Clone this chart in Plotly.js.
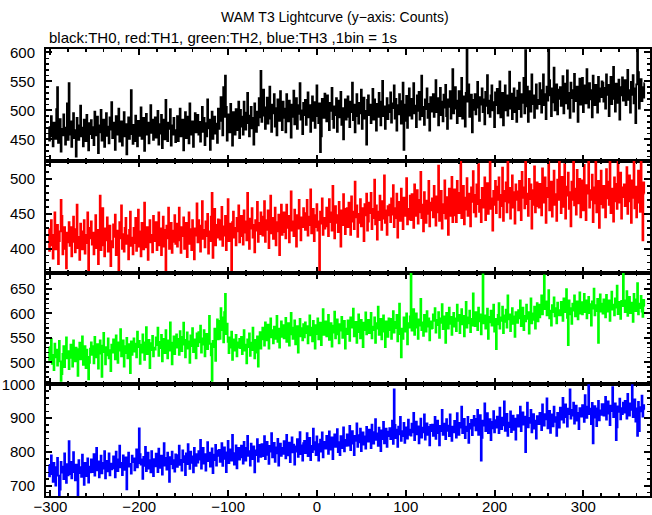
<!DOCTYPE html>
<html>
<head>
<meta charset="utf-8">
<script src="https://cdn.plot.ly/plotly-3.0.1.min.js"></script>
<style>html,body{margin:0;padding:0;background:#fff;}#chart{width:652px;height:515px;}</style>
</head>
<body>
<div id="chart"></div>
<script>
// Time bins: start time (s) and bin width (1bin = 1s)
const T_START = -302;
const BIN = 1;

// TH0 (black) counts per 1 s bin
const TH0 = [
471,448,455,490,462,438,479,466,451,502,540,444,473,485,429,468,457,493,470,441,463,512,449,547,
458,481,437,469,495,452,466,420,487,474,449,463,508,455,470,438,484,461,447,492,466,431,478,459,
483,452,471,440,498,465,457,489,426,474,462,501,448,469,484,437,461,495,456,472,443,488,467,514,
452,479,465,432,490,471,458,503,446,468,481,439,463,497,455,476,424,470,488,451,466,535,459,442,
475,447,491,462,438,482,469,456,505,451,473,487,430,466,494,458,479,443,470,509,461,484,449,468,
488,453,467,499,441,476,460,492,435,471,484,450,518,463,447,479,468,502,439,474,458,487,466,445,
461,490,447,478,503,455,469,484,431,476,497,452,466,489,443,512,470,458,481,437,474,495,462,479,
492,458,480,446,471,506,463,487,440,478,455,519,469,484,432,475,498,451,466,489,460,477,444,503,
468,495,523,482,457,540,489,560,506,448,493,478,462,511,485,439,497,474,458,502,481,466,515,452,
501,472,489,458,515,483,467,496,530,478,455,491,506,469,487,441,512,480,463,498,474,521,488,568,
480,512,536,491,468,505,522,477,499,541,486,463,510,495,528,472,504,457,519,490,482,533,498,466,
515,487,503,462,528,495,481,517,499,453,510,489,534,476,502,521,468,494,509,547,484,500,459,513,
492,518,475,506,531,488,509,463,497,524,482,514,470,501,543,490,478,512,428,455,520,504,487,529,
508,481,526,494,466,513,499,539,485,470,507,492,521,463,501,517,488,532,475,504,450,496,519,484,
489,524,506,471,515,497,548,483,510,462,501,528,490,477,513,495,536,468,507,522,486,499,441,518,
526,492,510,478,503,537,484,519,496,465,511,489,530,502,474,515,551,490,507,468,498,521,485,509,
497,531,479,512,504,543,486,520,465,509,493,528,501,477,516,548,432,482,510,525,470,505,538,491,
520,486,512,547,495,508,471,526,499,532,484,513,560,490,506,475,519,502,538,487,511,465,523,498,
503,528,489,516,552,497,521,474,510,539,492,515,481,527,505,544,490,468,519,506,533,486,512,571,
495,521,540,503,478,517,533,490,512,556,486,524,507,472,530,605,515,545,489,508,527,462,518,501,
528,493,516,549,505,482,523,510,538,497,519,476,532,508,561,495,517,489,526,543,500,514,471,531,
509,537,495,521,550,488,516,530,474,512,543,500,526,491,518,567,503,529,485,514,538,497,522,480,
534,502,548,517,489,528,513,556,495,604,507,541,480,519,533,498,562,511,526,487,520,545,503,518,
511,547,520,496,535,562,509,528,485,541,517,606,552,526,490,538,514,574,500,529,545,493,520,536,
540,508,531,559,495,524,546,512,569,503,530,487,548,521,535,498,563,516,527,541,480,533,555,510,
521,556,497,538,543,512,571,529,505,547,519,535,488,560,526,509,544,532,496,558,515,538,523,550,
548,515,539,503,562,527,544,490,536,558,511,531,575,520,498,546,529,513,553,484,540,526,557,517,
525,552,509,541,570,518,535,496,549,527,561,512,538,478,545,607,566,503,529,554,516,540,522,547
];

// TH1 (red)
const TH1 = [
428,397,412,441,405,386,420,452,399,416,434,378,411,425,470,447,392,418,431,400,372,423,409,438,
404,431,389,419,446,410,395,428,463,401,417,384,436,412,399,425,441,393,420,408,452,364,415,430,
439,406,423,392,415,448,401,427,378,414,476,398,420,458,405,389,429,412,445,396,418,433,375,411,
402,435,417,449,391,426,410,366,438,415,462,400,421,396,430,444,407,419,385,427,453,404,416,392,
430,408,444,397,421,456,403,425,389,437,412,399,466,418,402,431,384,426,441,409,420,395,447,414,
411,438,398,424,452,405,429,391,417,446,403,427,365,433,415,459,400,422,437,394,426,410,448,407,
436,403,427,459,412,394,431,418,445,400,423,437,388,416,452,407,428,398,441,414,385,429,419,465,
409,441,420,396,433,468,414,427,402,439,418,450,393,425,411,446,480,387,421,457,405,434,416,442,
441,413,429,460,404,432,419,447,398,428,471,411,436,422,368,438,453,416,430,405,444,425,462,409,
418,447,431,406,455,423,439,412,480,427,400,443,429,458,416,434,395,441,426,467,410,437,421,452,
446,419,435,468,410,441,427,455,401,433,476,422,444,414,430,459,405,438,425,449,391,436,463,420,
424,452,438,415,463,430,447,409,441,482,426,439,418,456,433,403,448,429,470,437,412,445,431,458,
451,427,443,470,419,446,434,485,422,440,457,411,448,431,464,426,439,367,453,436,472,420,444,429,
432,459,445,418,471,438,452,426,490,443,415,461,437,448,424,467,440,403,455,434,478,446,421,457,
458,431,466,447,420,475,439,453,428,496,445,462,417,450,437,471,432,458,441,411,464,448,479,426,
439,466,451,480,428,457,444,499,435,462,413,453,441,476,449,427,468,443,505,437,455,420,461,448,
463,438,472,449,491,431,458,444,479,416,455,467,440,486,452,428,473,447,462,501,435,457,442,476,
441,478,455,430,492,461,447,484,436,470,452,510,444,463,425,481,458,437,469,450,497,432,466,455,
472,445,490,461,433,475,452,519,440,468,483,429,464,451,498,443,474,457,420,486,462,447,503,438,
448,485,463,438,497,470,451,480,529,444,466,490,435,473,456,501,447,479,461,432,488,467,511,452,
477,446,492,464,521,453,470,438,487,459,475,502,441,468,494,450,478,533,457,472,426,483,463,497,
451,489,470,502,445,477,461,516,440,483,468,495,452,531,466,487,443,474,505,459,481,436,492,470,
482,455,497,468,441,510,473,488,458,535,464,479,447,500,471,492,429,484,463,518,452,476,495,461,
459,493,472,448,515,481,466,502,437,487,474,528,455,469,496,446,483,512,463,478,440,499,470,534,
485,451,503,474,460,521,443,489,476,509,457,481,432,496,470,538,462,486,449,513,478,465,500,445,
476,498,455,520,467,441,491,479,533,459,484,470,506,438,488,465,525,452,481,497,430,473,512,464,
459,490,478,445,514,472,496,463,527,451,486,475,439,502,468,493,457,531,480,466,509,443,488,474,
492,461,483,517,450,476,505,468,437,498,473,540,458,489,445,481,512,466,453,527,470,412,495,479
];

// TH2 (green)
const TH2 = [
531,505,522,548,497,515,484,538,510,526,493,519,544,502,462,476,517,533,490,512,551,508,523,486,
509,536,518,491,545,524,502,530,515,472,527,540,506,521,553,495,517,533,488,526,511,465,499,528,
541,515,533,498,552,526,510,537,487,529,545,518,470,534,560,521,496,531,514,549,508,525,482,536,
520,547,529,506,555,535,499,541,524,568,512,530,545,491,533,519,550,508,537,526,478,543,515,534,
549,522,538,510,563,531,544,497,536,520,557,528,505,541,572,517,533,546,488,539,525,554,512,530,
526,551,535,571,513,542,529,556,502,537,548,519,566,534,508,545,524,582,531,496,540,553,517,544,
557,530,548,515,564,539,523,552,581,536,510,546,561,528,543,499,555,533,570,521,547,537,508,559,
533,562,541,575,520,549,536,566,512,545,558,527,550,595,538,514,462,544,531,569,503,560,588,547,
585,548,611,566,592,541,603,640,558,579,542,519,551,530,563,505,538,547,524,556,512,541,530,548,
529,552,517,541,566,524,536,498,547,531,559,513,540,525,571,535,508,546,520,553,491,537,562,528,
547,571,556,534,582,560,545,577,528,563,590,551,566,539,573,548,561,595,542,569,530,558,584,552,
576,549,568,591,542,565,580,534,557,601,571,548,563,586,537,559,574,520,566,589,553,570,545,578,
551,582,560,574,539,567,596,555,571,543,585,562,528,576,558,590,547,568,581,535,572,609,556,563,
584,553,571,597,546,566,580,532,575,561,604,549,570,588,557,539,578,565,593,550,572,585,528,569,
558,586,565,544,592,571,579,610,553,568,583,540,575,598,562,549,587,570,531,581,566,602,557,574,
587,560,578,601,549,573,566,592,540,580,569,614,556,575,589,547,571,596,563,531,584,570,552,590,
566,589,548,578,605,561,583,570,597,543,575,620,558,510,569,548,592,574,563,600,537,580,571,594,
684,565,583,609,556,578,600,571,548,588,575,630,566,582,554,597,579,563,605,573,590,545,584,569,
570,598,585,611,561,587,576,603,550,590,581,619,568,594,577,540,601,584,569,612,579,593,556,588,
601,573,590,564,618,585,597,560,589,609,578,595,553,586,624,571,592,580,606,562,589,575,641,583,
574,603,588,566,612,584,598,557,591,680,580,596,569,587,610,548,593,582,606,575,591,618,563,589,
527,578,597,621,569,592,585,614,560,596,583,608,571,637,588,598,564,593,611,579,594,552,603,586,
581,607,590,627,574,598,612,566,595,584,618,589,603,559,596,631,580,600,587,614,569,597,621,584,
618,592,611,637,598,620,678,609,625,596,612,648,590,606,575,617,603,633,594,611,580,622,607,596,
596,624,609,585,631,612,603,650,591,535,627,598,611,579,620,606,637,594,612,625,588,609,643,600,
623,598,615,640,603,627,590,612,634,601,619,575,625,610,651,596,617,605,630,540,614,639,604,620,
600,629,613,592,638,616,604,627,585,621,645,608,618,596,631,612,657,599,624,607,589,626,615,682,
627,603,619,646,595,614,634,601,622,610,583,640,617,605,629,662,598,620,611,636,604,593,628,615
];

// TH3 (blue)
const TH3 = [
762,728,751,790,735,712,768,744,701,755,783,730,672,689,771,739,757,720,796,743,709,764,731,832,
735,771,722,758,800,741,716,763,749,668,776,738,755,727,792,745,703,768,751,729,781,710,757,740,
778,741,765,794,730,759,812,746,772,725,761,789,737,768,751,803,722,774,757,743,796,731,766,749,
752,787,763,725,801,770,744,778,819,755,768,732,790,761,747,784,690,773,798,757,765,736,789,770,
781,746,772,808,755,767,870,794,763,778,721,786,759,815,744,770,798,751,776,740,803,762,729,779,
758,795,767,741,810,776,753,789,733,772,826,760,783,748,798,769,712,785,764,801,752,776,742,793,
791,756,783,819,762,777,745,805,770,788,732,796,764,823,779,750,801,768,787,740,812,775,759,794,
769,803,778,836,751,790,812,766,794,745,782,829,773,798,757,786,811,738,792,776,821,760,789,804,
806,771,795,826,759,788,814,780,741,799,833,767,792,808,775,851,786,763,797,820,752,790,812,778,
784,819,792,766,830,801,775,812,848,789,803,760,825,796,779,817,740,805,791,838,772,799,821,786,
823,788,811,847,779,806,830,792,765,818,801,856,784,809,827,771,814,796,839,760,808,825,789,812,
795,832,806,781,851,815,790,828,770,812,843,799,822,763,817,801,838,786,811,859,794,820,775,826,
833,797,821,856,788,814,842,776,818,800,869,807,829,791,846,812,775,823,837,801,858,784,819,830,
810,848,822,795,861,830,807,843,779,826,852,815,834,868,800,829,791,847,821,812,873,802,836,818,
852,819,844,877,806,839,862,825,791,848,833,885,815,850,829,869,803,841,858,822,846,810,874,833,
831,866,842,812,881,850,825,859,897,836,855,818,872,845,803,864,838,889,826,851,869,815,847,860,
871,838,862,893,824,985,880,841,866,815,875,852,904,833,862,847,886,827,859,873,840,896,851,866,
849,884,858,916,835,867,890,852,876,826,869,899,843,872,858,911,837,866,885,851,874,820,880,862,
881,848,873,904,839,868,893,856,820,877,862,925,851,884,869,838,897,863,878,847,911,860,833,875,
858,892,867,843,915,879,851,886,872,934,856,880,898,841,875,862,904,827,883,869,895,850,878,907,
898,864,889,925,851,883,909,775,842,893,878,944,862,887,915,856,881,897,835,889,870,921,858,894,
872,905,884,856,931,891,868,902,879,950,863,896,913,848,887,874,920,859,893,908,866,899,837,886,
909,875,898,934,862,894,917,881,905,800,890,946,873,901,886,925,858,897,912,869,893,840,906,884,
883,916,892,865,941,901,878,912,897,959,870,905,922,857,894,911,876,934,889,903,848,916,893,872,
931,896,922,960,887,918,941,903,875,928,912,985,899,925,908,946,884,921,937,893,916,868,930,909,
905,939,917,889,968,926,901,934,1005,912,928,883,945,826,902,936,917,877,929,951,894,923,910,942,
942,908,931,963,896,925,950,914,880,937,921,992,903,928,944,835,873,935,919,958,897,930,912,946,
917,951,928,899,972,934,908,944,925,1002,903,937,956,890,929,848,948,862,933,920,967,905,939,926
];

const SERIES = [TH0, TH1, TH2, TH3];
const COLORS = ['#000000', '#ff0000', '#00ff00', '#0000ff'];
const Y_RANGES = [[413, 606], [366, 526], [455, 684], [670, 1000.5]];
const Y_DTICK = [50, 50, 50, 100];
const Y_MINOR = [10, 10, 10, 20];
const X_RANGE = [-305, 375];
const TITLE = 'WAM T3 Lightcurve (y\u2212axis: Counts)';
const SUBTITLE = 'black:TH0, red:TH1, green:TH2, blue:TH3 ,1bin = 1s';

const FONT = 'Liberation Sans, Arial, Helvetica, sans-serif';

function times(n) {
  const t = [];
  for (let i = 0; i < n; i++) t.push(T_START + i * BIN);
  return t;
}

const traces = SERIES.map((ys, i) => ({
  type: 'scatter',
  mode: 'lines',
  x: times(ys.length),
  y: ys,
  xaxis: i === 0 ? 'x' : 'x' + (i + 1),
  yaxis: i === 0 ? 'y' : 'y' + (i + 1),
  line: {color: COLORS[i], width: 1.8, shape: 'hvh'},
  hoverinfo: 'skip'
}));

const layout = {
  width: 652, height: 515,
  margin: {l: 46, r: 2, t: 49, b: 19},
  paper_bgcolor: '#ffffff', plot_bgcolor: '#ffffff',
  showlegend: false,
  font: {family: FONT, size: 14, color: '#000000'},
  annotations: [
    {text: TITLE, xref: 'paper', yref: 'paper', x: 0.478, y: 1.0727, xanchor: 'center', yanchor: 'middle',
     showarrow: false, font: {family: FONT, size: 14, color: '#000'}},
    {text: SUBTITLE, xref: 'paper', yref: 'paper', x: 0.0017, y: 1.0268, xanchor: 'left', yanchor: 'middle',
     showarrow: false, font: {family: FONT, size: 15, color: '#000'}}
  ]
};

const n = SERIES.length;
for (let i = 0; i < n; i++) {
  const suffix = i === 0 ? '' : String(i + 1);
  const top = 1 - i / n, bottom = 1 - (i + 1) / n;
  layout['xaxis' + suffix] = {
    range: X_RANGE, anchor: 'y' + suffix, domain: [0, 1],
    showline: true, linecolor: '#000', linewidth: 2, mirror: 'ticks',
    ticks: 'inside', ticklen: 6, tickwidth: 2, tickcolor: '#000',
    tick0: 0, dtick: 100, showgrid: false, zeroline: false,
    showticklabels: i === n - 1,
    tickfont: {family: FONT, size: 15, color: '#000'},
    ticklabelstandoff: -4,
    minor: {dtick: 20, ticks: 'inside', ticklen: 3, tickwidth: 1.5, tickcolor: '#000', showgrid: false}
  };
  layout['yaxis' + suffix] = {
    range: Y_RANGES[i], anchor: 'x' + suffix, domain: [bottom, top],
    showline: true, linecolor: '#000', linewidth: 2, mirror: 'ticks',
    ticks: 'inside', ticklen: 6, tickwidth: 2, tickcolor: '#000',
    tick0: 0, dtick: Y_DTICK[i], showgrid: false, zeroline: false,
    tickfont: {family: FONT, size: 15, color: '#000'},
    ticklabelstandoff: 6,
    minor: {dtick: Y_MINOR[i], ticks: 'inside', ticklen: 3, tickwidth: 1.5, tickcolor: '#000', showgrid: false}
  };
}

Plotly.newPlot('chart', traces, layout, {displayModeBar: false, staticPlot: true});
</script>
</body>
</html>
